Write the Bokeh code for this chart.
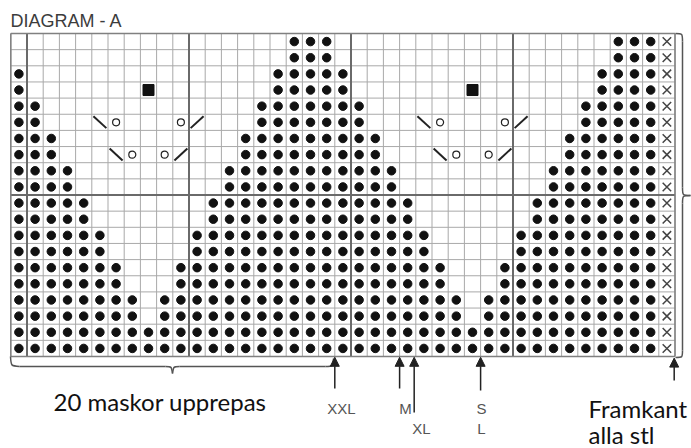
from bokeh.plotting import figure
from bokeh.models import Range1d, Label, Arrow, NormalHead
from bokeh.embed import file_html
from bokeh.resources import INLINE

# ---- chart data ----
# one entry per chart row, top to bottom; groups follow the thick lines:
# col 0 | cols 1-10 | cols 11-20 | cols 21-30 | cols 31-39 | col 40 (edge)
# '#' = dot, '.' = blank, 'B' = black square, 'o' = yarn over,
# '\' = left-leaning decrease, '/' = right-leaning decrease, 'x' = edge stitch
chart_rows = [
    ["." , ".........." , "......###." , ".........." , "......###" , "x"],
    ["." , ".........." , "......###." , ".........." , "......###" , "x"],
    ["#" , ".........." , ".....#####" , ".........." , ".....####" , "x"],
    ["#" , ".......B.." , ".....#####" , ".......B.." , ".....####" , "x"],
    ["#" , "#........." , "....######" , "#........." , "....#####" , "x"],
    ["#" , r"#...\o...o", "/...######" , r"#...\o...o", "/...#####" , "x"],
    ["#" , "##........" , "...#######" , "##........" , "...######" , "x"],
    ["#" , r"##...\o.o/", "...#######" , r"##...\o.o/", "...######" , "x"],
    ["#" , "###......." , "..########" , "###......." , "..#######" , "x"],
    ["#" , "###......." , "..########" , "###......." , "..#######" , "x"],
    ["#" , "####......" , ".#########" , "####......" , ".########" , "x"],
    ["#" , "####......" , ".#########" , "####......" , ".########" , "x"],
    ["#" , "#####....." , "##########" , "#####....." , "#########" , "x"],
    ["#" , "#####....." , "##########" , "#####....." , "#########" , "x"],
    ["#" , "######...#" , "##########" , "######...#" , "#########" , "x"],
    ["#" , "######...#" , "##########" , "######...#" , "#########" , "x"],
    ["#" , "#######.##" , "##########" , "#######.##" , "#########" , "x"],
    ["#" , "#######.##" , "##########" , "#######.##" , "#########" , "x"],
    ["#" , "##########" , "##########" , "##########" , "#########" , "x"],
    ["#" , "##########" , "##########" , "##########" , "#########" , "x"],
]
section_lines = [1, 11, 21, 31]          # thick vertical lines (column boundaries)
half_line = [10]                         # thick horizontal line (row boundary)
size_names = ["XXL", "M", "XL", "S/L"]   # size start markers
size_cols = [20.0, 24.0, 24.9, 29.0]     # boundary where each size starts
edge_col = 40.95                         # front edge, all sizes
repeat_label = "20 maskor upprepas"
edge_label = ["Framkant", "alla stl"]
title_text = "DIAGRAM - A"

# ---- layout ----
FIG_W, FIG_H = 691, 448
X0, CW = 10.3, 16.2      # page px of grid left edge, cell width
Y0, CH = 33.0, 16.15     # page px of grid top edge, cell height


def px(x):
    return (x - X0) / CW


def py(y):
    return (y - Y0) / CH


rows = ["".join(r) for r in chart_rows]
n_rows = len(rows)
n_cols = len(rows[0])

p = figure(width=FIG_W, height=FIG_H,
           x_range=Range1d(px(0), px(FIG_W)),
           y_range=Range1d(py(FIG_H), py(0)),
           output_backend="svg", toolbar_location=None,
           x_axis_location=None, y_axis_location=None,
           min_border=0, background_fill_color="white",
           border_fill_color="white")
p.xgrid.visible = False
p.ygrid.visible = False
p.outline_line_color = None

# thin grid
vx = [i for i in range(n_cols + 1)]
hy = [j for j in range(n_rows + 1)]
p.segment(x0=vx, y0=[0] * len(vx), x1=vx, y1=[n_rows] * len(vx),
          line_color="#a9a9a9", line_width=1)
p.segment(x0=[0] * len(hy), y0=hy, x1=[n_cols] * len(hy), y1=hy,
          line_color="#a9a9a9", line_width=1)
# thick section lines
p.segment(x0=section_lines, y0=[0] * 4, x1=section_lines, y1=[n_rows] * 4,
          line_color="#6a6a6a", line_width=2)
p.segment(x0=[0], y0=half_line, x1=[n_cols], y1=half_line,
          line_color="#6a6a6a", line_width=2)
# border
p.segment(x0=[0, n_cols, 0, 0], y0=[0, 0, 0, n_rows],
          x1=[0, n_cols, n_cols, n_cols], y1=[n_rows, n_rows, 0, n_rows],
          line_color="#808080", line_width=1.5)

dots_x, dots_y = [], []
sq_x, sq_y = [], []
yo_x, yo_y = [], []
ex_x, ex_y = [], []
sl = {"x0": [], "y0": [], "x1": [], "y1": []}
for r, row in enumerate(rows):
    for c, ch in enumerate(row):
        cx, cy = c + 0.5, r + 0.5
        if ch == "#":
            dots_x.append(cx); dots_y.append(cy)
        elif ch == "B":
            sq_x.append(cx); sq_y.append(cy)
        elif ch == "o":
            yo_x.append(cx); yo_y.append(cy)
        elif ch == "x":
            ex_x.append(cx); ex_y.append(cy)
        elif ch == "\\":
            sl["x0"].append(c + 0.1); sl["y0"].append(r + 0.12)
            sl["x1"].append(c + 0.9); sl["y1"].append(r + 0.86)
        elif ch == "/":
            sl["x0"].append(c + 0.1); sl["y0"].append(r + 0.86)
            sl["x1"].append(c + 0.9); sl["y1"].append(r + 0.12)

p.scatter(dots_x, dots_y, marker="circle", size=8.5, fill_color="#111111",
          line_color="#111111")
p.scatter(sq_x, sq_y, marker="square", size=11, fill_color="#111111",
          line_color="#111111")
p.scatter(yo_x, yo_y, marker="circle", size=7, fill_color="white",
          line_color="#222222", line_width=1.2)
p.scatter(ex_x, ex_y, marker="x", size=12, line_color="#444444",
          line_width=1.5)
p.segment(x0=sl["x0"], y0=sl["y0"], x1=sl["x1"], y1=sl["y1"],
          line_color="#222222", line_width=2)

# ---- braces ----
BR = "#555555"
# bottom brace under the 20-stitch repeat
p.bezier(x0=[px(10), px(165), px(172), px(325)],
         y0=[py(356), py(366), py(373), py(366)],
         x1=[px(19), px(172), px(179), px(333)],
         y1=[py(366), py(373), py(366), py(358)],
         cx0=[px(10.5), px(171), px(173), px(332.5)],
         cy0=[py(365.5), py(366), py(366), py(366)],
         cx1=[px(10.5), px(171), px(173), px(332.5)],
         cy1=[py(365.5), py(366), py(366), py(366)],
         line_color=BR, line_width=1.5)
p.segment(x0=[px(19), px(179)], y0=[py(366), py(366)],
          x1=[px(165), px(325)], y1=[py(366), py(366)],
          line_color=BR, line_width=1.5)
# right brace
p.bezier(x0=[px(675), px(682), px(690), px(682)],
         y0=[py(33), py(187), py(195), py(350)],
         x1=[px(682), px(690), px(682), px(675)],
         y1=[py(41), py(195), py(203), py(357)],
         cx0=[px(682), px(682), px(682), px(682)],
         cy0=[py(33), py(195), py(195), py(357)],
         cx1=[px(682), px(682), px(682), px(682)],
         cy1=[py(33), py(195), py(195), py(357)],
         line_color=BR, line_width=1.5)
p.segment(x0=[px(682), px(682)], y0=[py(41), py(203)],
          x1=[px(682), px(682)], y1=[py(187), py(350)],
          line_color=BR, line_width=1.5)

# ---- size arrows ----
arrow_tail = [388, 388, 412, 390]
for col, tail in zip(size_cols, arrow_tail):
    p.add_layout(Arrow(x_start=col, y_start=py(tail), x_end=col,
                       y_end=n_rows + 0.05,
                       end=NormalHead(size=9, fill_color="#222222",
                                      line_color="#222222"),
                       line_color="#222222", line_width=1.5))
p.add_layout(Arrow(x_start=edge_col, y_start=py(380), x_end=edge_col,
                   y_end=n_rows + 0.1,
                   end=NormalHead(size=9, fill_color="#222222",
                                  line_color="#222222"),
                   line_color="#222222", line_width=1.5))

lab_style = dict(text_font="Liberation Sans", text_font_size="15px",
                 text_color="#555555", text_align="center",
                 text_baseline="alphabetic")
size_text = [("XXL", 341, 408), ("M", 405, 408), ("XL", 421, 428),
             ("S", 481, 408), ("L", 481, 428)]
for t, lx, ly in size_text:
    p.add_layout(Label(x=px(lx), y=py(ly), text=t, **lab_style))

big = dict(text_font="Lato", text_font_size="24px", text_color="#111111",
           text_baseline="alphabetic")
p.add_layout(Label(x=px(53), y=py(401), text=repeat_label, **big))
p.add_layout(Label(x=px(588), y=py(408), text=edge_label[0], **big))
p.add_layout(Label(x=px(588), y=py(434), text=edge_label[1], **big))

p.add_layout(Label(x=px(10), y=py(20), text=title_text,
                   text_font="Liberation Sans", text_font_size="18px",
                   text_color="#3c3c3c", text_baseline="alphabetic"))

open("out.html", "w").write(file_html(p, INLINE))
